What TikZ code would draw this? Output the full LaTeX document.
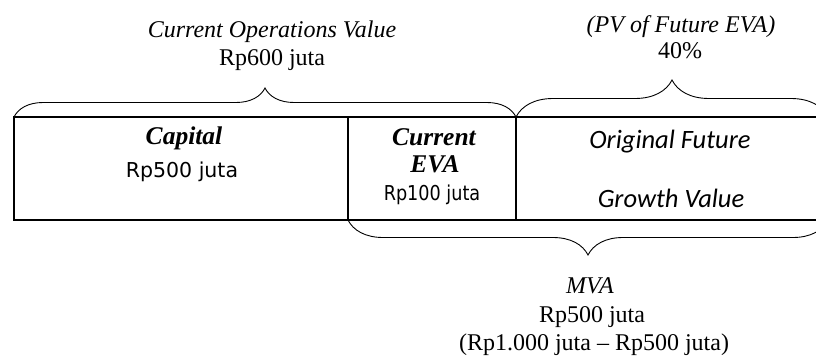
\documentclass[tikz,border=0pt]{standalone}
\usepackage{fontspec}
\setmainfont{Liberation Serif}
\newfontfamily\cellsans{DejaVu Sans}
\newfontfamily\cellnarrow[FakeStretch=0.86]{DejaVu Sans}
\newfontfamily\cellcal{Carlito}
\usetikzlibrary{decorations.pathreplacing}
\tikzset{
  cell/.style={draw,line width=1.2pt,inner sep=0pt,outer sep=0pt,minimum height=103pt},
  curly/.style={decorate,decoration={brace,amplitude=#1},line width=0.9pt},
  outtext/.style={font=\fontsize{24}{28}\selectfont,anchor=base,inner sep=0pt},
  headtext/.style={font=\fontsize{25.5}{30}\selectfont\bfseries\itshape,anchor=base,inner sep=0pt},
  celltext/.style={font=\cellsans\fontsize{20.5}{24}\selectfont,anchor=base,inner sep=0pt},
  growthtext/.style={font=\cellcal\fontsize{26.5}{30}\selectfont\itshape,anchor=base,inner sep=0pt}
}

\begin{document}
\begin{tikzpicture}[x=1pt,y=-1pt]
  \clip (0,0) rectangle (816,356);

  % the three parts of the firm value
  \node[cell,minimum width=334pt] (capital) at (181,168.5) {};
  \node[cell,minimum width=168pt] (eva) at (432,168.5) {};
  \node[cell,minimum width=312pt] (growth) at (672,168.5) {};

  \node[headtext] (capname) at (184,144) {Capital};
  \node[celltext] (capval) at (182,177) {Rp500 juta};
  \node[headtext] (evaname) at (434,145) {Current};
  \node[headtext] (evaabbr) at (435,172) {EVA};
  \node[celltext,font=\cellnarrow\fontsize{20.5}{24}\selectfont] (evaval) at (432,200) {Rp100 juta};
  \node[growthtext] (growname) at (670,148) {Original Future};
  \node[growthtext] (growval) at (671,207) {Growth Value};

  % braces over and under the boxes
  \draw[curly=29pt] (capital.north west) -- (eva.north east);
  \draw[curly=37pt] (growth.north west) -- (growth.north east);
  \draw[curly=35pt] (growth.south east) -- (eva.south west);

  \node[outtext,font=\fontsize{24}{28}\selectfont\itshape] (opsname) at (272,37) {Current Operations Value};
  \node[outtext] (opsval) at (272,65) {Rp600 juta};
  \node[outtext,font=\fontsize{24}{28}\selectfont\itshape] (pvname) at (681,32) {(PV of Future EVA)};
  \node[outtext] (pvval) at (680,58) {40\%};
  \node[outtext,font=\fontsize{24}{28}\selectfont\itshape] (mvaname) at (590,293) {MVA};
  \node[outtext] (mvaval) at (592,322) {Rp500 juta};
  \node[outtext] (mvacalc) at (594,350) {(Rp1.000 juta -- Rp500 juta)};
\end{tikzpicture}
\end{document}
